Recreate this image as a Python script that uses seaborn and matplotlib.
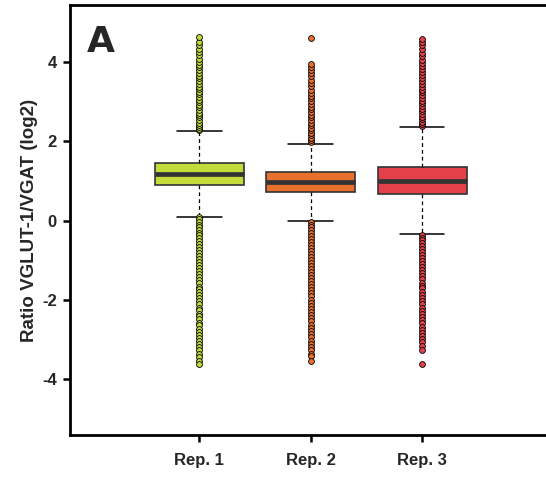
import numpy as np
import pandas as pd
import matplotlib
matplotlib.use("Agg")
import matplotlib.pyplot as plt
import seaborn as sns

# ---- data ----
reps = ["Rep. 1", "Rep. 2", "Rep. 3"]
colors = ["#c4dc3b", "#e8702f", "#e3404b"]

q1s = [0.905, 0.72, 0.66]
medians = [1.17, 0.98, 1.00]
q3s = [1.445, 1.22, 1.34]
whis_lo = [0.10, -0.02, -0.35]
whis_hi = [2.25, 1.94, 2.35]
core_weight = 300  # number of core observations per quartile block

out_hi_1 = [2.27, 2.31, 2.36, 2.42, 2.47, 2.53, 2.6, 2.66, 2.71, 2.78, 2.85, 2.91,
            2.98, 3.04, 3.11, 3.18, 3.24, 3.31, 3.37, 3.45, 3.52, 3.58, 3.65, 3.72,
            3.79, 3.86, 3.93, 4.0, 4.08, 4.16, 4.24, 4.33, 4.41, 4.5, 4.62]
out_lo_1 = [0.08, 0.03, -0.03, -0.1, -0.17, -0.24, -0.3, -0.37, -0.45, -0.52, -0.6,
            -0.67, -0.74, -0.82, -0.9, -0.97, -1.05, -1.12, -1.2, -1.28, -1.35, -1.43,
            -1.5, -1.58, -1.66, -1.73, -1.81, -1.88, -1.96, -2.03, -2.11, -2.19, -2.26,
            -2.34, -2.41, -2.49, -2.57, -2.64, -2.72, -2.8, -2.87, -2.95, -3.03, -3.11,
            -3.19, -3.27, -3.35, -3.44, -3.53, -3.62]
out_hi_2 = [1.98, 2.03, 2.09, 2.15, 2.21, 2.28, 2.34, 2.41, 2.47, 2.54, 2.6, 2.67,
            2.74, 2.8, 2.87, 2.94, 3.01, 3.08, 3.15, 3.22, 3.3, 3.38, 3.46, 3.55, 3.64,
            3.72, 3.8, 3.88, 3.94, 4.6]
out_lo_2 = [-0.04, -0.1, -0.17, -0.24, -0.31, -0.38, -0.46, -0.53, -0.61, -0.68,
            -0.76, -0.83, -0.91, -0.99, -1.06, -1.14, -1.22, -1.29, -1.37, -1.45, -1.52,
            -1.6, -1.68, -1.76, -1.83, -1.91, -1.99, -2.07, -2.15, -2.22, -2.3, -2.38,
            -2.46, -2.54, -2.62, -2.7, -2.78, -2.86, -2.94, -3.02, -3.1, -3.18, -3.26,
            -3.35, -3.42, -3.54]
out_hi_3 = [2.38, 2.43, 2.49, 2.55, 2.62, 2.68, 2.75, 2.82, 2.88, 2.95, 3.02, 3.09,
            3.16, 3.23, 3.3, 3.37, 3.44, 3.51, 3.58, 3.66, 3.73, 3.81, 3.89, 3.97, 4.05,
            4.14, 4.23, 4.32, 4.42, 4.5, 4.58]
out_lo_3 = [-0.37, -0.43, -0.5, -0.57, -0.64, -0.72, -0.79, -0.87, -0.94, -1.02,
            -1.09, -1.17, -1.25, -1.32, -1.4, -1.48, -1.56, -1.64, -1.71, -1.79, -1.87,
            -1.95, -2.03, -2.11, -2.19, -2.27, -2.35, -2.43, -2.51, -2.59, -2.67, -2.75,
            -2.83, -2.91, -2.99, -3.07, -3.15, -3.25, -3.62]

outliers_hi = [out_hi_1, out_hi_2, out_hi_3]
outliers_lo = [out_lo_1, out_lo_2, out_lo_3]

# ---- build a long table ----
rows = []
for i, rep in enumerate(reps):
    vals = (list(outliers_lo[i]) + [whis_lo[i]]
            + [q1s[i]] * core_weight + [medians[i]] * core_weight
            + [q3s[i]] * core_weight + [whis_hi[i]] + list(outliers_hi[i]))
    rows += [(rep, v) for v in vals]
df = pd.DataFrame(rows, columns=["rep", "ratio"])

# ---- plot ----
sns.set_style("white")
plt.rcParams["font.family"] = ["Liberation Sans", "DejaVu Sans"]
plt.rcParams["font.weight"] = "bold"

fig = plt.figure(figsize=(5.46, 4.8), dpi=100)
ax = fig.add_axes([70 / 546, 1 - 435 / 480, 497 / 546, 430 / 480])

sns.boxplot(data=df, x="rep", y="ratio", hue="rep", palette=colors, legend=False,
            width=0.8, whis=1.5, saturation=1, ax=ax,
            linecolor="#333333", linewidth=1.2,
            boxprops=dict(edgecolor="#333333", linewidth=1.2),
            medianprops=dict(color="#333333", linewidth=3.4),
            whiskerprops=dict(color="black", linestyle=(0, (3, 2.5)), linewidth=0.9),
            capprops=dict(color="black", linestyle="-", linewidth=1.1),
            flierprops=dict(marker="o", markersize=4.2, markeredgecolor="black",
                            markeredgewidth=0.6))

for cont, col in zip(ax.containers, colors):
    for fl in cont.fliers:
        fl.set_markerfacecolor(col)

ax.set_xlim(-1.16, 3.3)
ax.set_ylim(-5.4, 5.43)
ax.set_yticks([-4, -2, 0, 2, 4])
ax.set_yticklabels(["-4", "-2", "0", "2", "4"], fontsize=12, fontweight="bold")
ax.set_xticks([0, 1, 2])
ax.set_xticklabels(reps, fontsize=12, fontweight="bold")
ax.set_xlabel("")
ax.set_ylabel("Ratio VGLUT-1/VGAT (log2)", fontsize=13.5, fontweight="bold", labelpad=3)

for side in ["left", "bottom", "top"]:
    ax.spines[side].set_visible(True)
    ax.spines[side].set_linewidth(2.0)
    ax.spines[side].set_color("black")
ax.spines["right"].set_visible(False)
ax.tick_params(axis="both", which="major", direction="out", length=5, width=1.8,
               color="black", left=True, bottom=True)
ax.tick_params(axis="y", pad=4.5)
ax.tick_params(axis="x", pad=8)

ax.text(0.033, 0.915, "A", transform=ax.transAxes, fontsize=26, fontweight="bold",
        family=["DejaVu Sans"], va="center", ha="left")

fig.savefig("out.png", dpi=100)
